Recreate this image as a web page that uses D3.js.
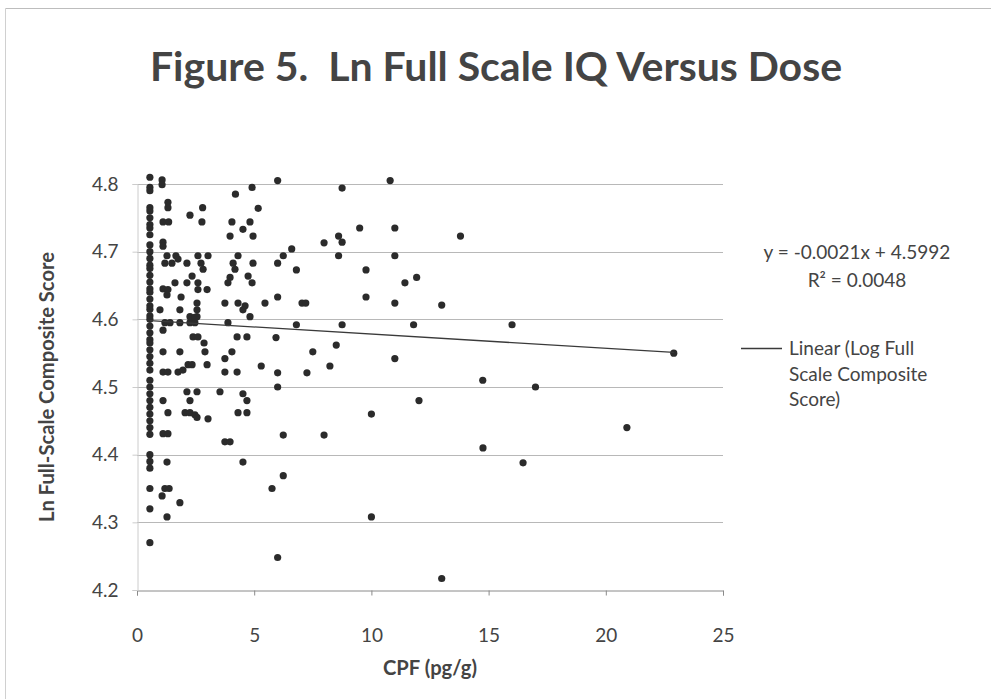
<!DOCTYPE html>
<html>
<head>
<meta charset="utf-8">
<script src="https://cdn.jsdelivr.net/npm/d3@7"></script>
<style>
  html, body { margin: 0; padding: 0; background: #fff; }
  svg { display: block; }
  text { font-family: Lato, "Open Sans", sans-serif; fill: #444; white-space: pre; }
</style>
</head>
<body>
<svg id="chart" width="991" height="699"></svg>
<script>
// ---- data ----
const titleText = "Figure 5.  Ln Full Scale IQ Versus Dose";
const xAxisTitle = "CPF (pg/g)";
const yAxisTitle = "Ln Full-Scale Composite Score";
const xTicks = [0, 5, 10, 15, 20, 25];
const yTicks = [4.2, 4.3, 4.4, 4.5, 4.6, 4.7, 4.8];
const trendSlope = -0.0021;
const trendIntercept = 4.5992;
const trendRange = [0.55, 22.9];
const equationLines = ["y = -0.0021x + 4.5992", "R² = 0.0048"];
const legendLines = ["Linear (Log Full", "Scale Composite", "Score)"];

// column of samples at the lowest dose
const lowDoseX = 0.55;
const lowDoseScores = [4.81, 4.795, 4.79, 4.765, 4.76, 4.75, 4.74, 4.735, 4.725, 4.71,
  4.70, 4.69, 4.68, 4.675, 4.665, 4.655, 4.645, 4.64, 4.63, 4.62, 4.615, 4.605, 4.60,
  4.59, 4.58, 4.57, 4.565, 4.555, 4.545, 4.535, 4.525, 4.51, 4.50, 4.49, 4.48, 4.47,
  4.46, 4.45, 4.44, 4.43, 4.40, 4.39, 4.38, 4.35, 4.32, 4.27];

// remaining samples [dose, ln score]
const otherPoints = [
  [1.07,4.806],[1.07,4.799],[4.91,4.795],[4.2,4.785],
  [1.32,4.773],[1.32,4.765],[2.8,4.765],[2.26,4.754],[2.77,4.744],[1.11,4.744],[1.35,4.744],
  [4.05,4.744],[4.82,4.744],[4.52,4.733],[3.97,4.723],[4.95,4.723],[1.11,4.714],[1.11,4.708],
  [1.28,4.694],[1.66,4.694],[1.75,4.689],[2.13,4.683],[2.6,4.694],[3.03,4.694],[1.19,4.683],
  [1.49,4.683],[2.73,4.683],[2.82,4.674],[4.31,4.694],[4.1,4.683],[4.18,4.674],[4.95,4.683],
  [2.35,4.664],[1.62,4.654],[2.13,4.654],[2.6,4.654],[3.97,4.662],[3.88,4.654],[4.74,4.664],
  [4.91,4.654],[1.11,4.645],[1.32,4.644],[1.28,4.636],[1.88,4.633],[2.6,4.644],[2.99,4.644],
  [0.98,4.614],[1.83,4.614],[2.56,4.624],[2.56,4.614],[2.56,4.604],[3.75,4.624],[4.31,4.624],
  [4.61,4.62],[4.52,4.614],[1.19,4.595],[1.41,4.595],[1.83,4.595],[2.26,4.595],[2.47,4.595],
  [2.26,4.604],[2.47,4.603],[1.11,4.584],[3.88,4.595],[4.82,4.604],
  [2.39,4.574],[2.6,4.574],[4.27,4.574],[4.69,4.574],[2.86,4.565],[2.9,4.552],[1.11,4.552],
  [1.83,4.552],[4.05,4.552],[3.75,4.542],
  [1.11,4.522],[1.32,4.522],[1.75,4.522],[1.96,4.525],[2.18,4.533],[2.35,4.533],[2.99,4.533],
  [3.75,4.522],[4.27,4.522],
  [2.13,4.493],[2.56,4.493],[1.11,4.48],[2.26,4.48],[3.54,4.493],[4.52,4.49],[4.69,4.48],
  [1.32,4.462],[2.05,4.462],[2.26,4.462],[2.47,4.459],[2.56,4.455],[3.03,4.453],[4.31,4.462],
  [4.69,4.462],[1.11,4.431],[1.32,4.431],[3.75,4.419],[3.97,4.419],[1.28,4.389],[4.52,4.389],
  [1.19,4.35],[1.37,4.35],[1.07,4.339],[1.83,4.329],[1.28,4.308],
  [6.0,4.805],[10.8,4.805],[8.75,4.794],[5.17,4.764],[7.98,4.713],[8.6,4.723],[8.75,4.714],
  [9.5,4.735],[11.0,4.735],[6.6,4.704],[6.24,4.694],[6.0,4.683],[8.6,4.694],[11.0,4.694],
  [6.8,4.673],[9.77,4.673],[11.43,4.654],[6.0,4.633],[9.77,4.633],[5.46,4.624],[7.04,4.624],
  [7.2,4.624],[11.0,4.624],[6.8,4.592],[8.75,4.592],[5.93,4.573],[8.5,4.562],[7.5,4.552],
  [11.0,4.542],[5.3,4.531],[8.23,4.531],[6.0,4.521],[7.25,4.521],[6.0,4.50],[10.0,4.46],
  [6.24,4.429],[7.98,4.429],[6.24,4.369],[5.76,4.35],[10.0,4.308],[6.0,4.248],
  [13.8,4.723],[11.93,4.662],[13.0,4.621],[11.8,4.592],[16.0,4.592],[22.9,4.55],[14.75,4.51],
  [17.0,4.50],[12.03,4.48],[20.9,4.44],[14.76,4.41],[16.47,4.388],[13.0,4.217]
];

const points = lowDoseScores.map(v => [lowDoseX, v]).concat(otherPoints);

// ---- drawing ----
const svg = d3.select("#chart");
const W = 991, H = 699;
const plot = { left: 137, right: 723, top: 184, bottom: 590 };

// scale a text element's font size so it spans the wanted width
function fitWidth(sel, width, base) {
  sel.style("font-size", base + "px");
  const w = sel.node().getComputedTextLength();
  if (w > 0) sel.style("font-size", (base * width / w).toFixed(2) + "px");
  return sel;
}

// chart frame (top and left edges visible)
svg.append("line").attr("x1", 5.5).attr("x2", W).attr("y1", 8.5).attr("y2", 8.5)
  .attr("stroke", "#bdbdbd");
svg.append("line").attr("x1", 5.5).attr("x2", 5.5).attr("y1", 8.5).attr("y2", H)
  .attr("stroke", "#d0d0d0");

const x = d3.scaleLinear().domain([0, 25]).range([plot.left, plot.right]);
const y = d3.scaleLinear().domain([4.2, 4.8]).range([plot.bottom, plot.top]);

// gridlines
svg.append("g").selectAll("line").data(yTicks.slice(1)).join("line")
  .attr("x1", plot.left).attr("x2", plot.right)
  .attr("y1", d => Math.round(y(d)) + 0.5).attr("y2", d => Math.round(y(d)) + 0.5)
  .attr("stroke", "#b8b8b8").attr("stroke-width", 1);

// axes
const xAxis = d3.axisBottom(x).tickValues(xTicks).tickFormat(d3.format("d")).tickSize(5).tickPadding(33);
const gx = svg.append("g").attr("transform", `translate(0,${plot.bottom + 0.5})`).call(xAxis);
gx.select(".domain").attr("stroke", "#8a8a8a");
gx.selectAll(".tick line").attr("stroke", "#8a8a8a");
gx.selectAll(".tick text").style("font-size", "19px").style("font-family", "Lato, sans-serif").attr("fill", "#555");

const yAxis = d3.axisLeft(y).tickValues(yTicks).tickFormat(d3.format(".1f")).tickSize(5).tickPadding(14);
const gy = svg.append("g").attr("transform", `translate(${plot.left + 0.5},0)`).call(yAxis);
gy.select(".domain").attr("stroke", "#cccccc");
gy.selectAll(".tick line").attr("stroke", "#cccccc");
gy.selectAll(".tick text").style("font-size", "19px").style("font-family", "Lato, sans-serif").attr("fill", "#555");

// points
svg.append("g").selectAll("circle").data(points).join("circle")
  .attr("cx", d => x(d[0])).attr("cy", d => y(d[1])).attr("r", 3.6)
  .attr("fill", "#2b2b2b");

// trendline
const line = d3.line().x(d => x(d)).y(d => y(trendSlope * d + trendIntercept));
svg.append("path").datum(trendRange).attr("d", line)
  .attr("fill", "none").attr("stroke", "#3a3a3a").attr("stroke-width", 1.3);

// title
const title = svg.append("text").attr("x", 496).attr("y", 81).attr("text-anchor", "middle")
  .style("font-weight", "bold").attr("fill", "#404040")
  .text(titleText);
fitWidth(title, 692, 37);

// axis titles
const xt = svg.append("text").attr("x", (plot.left + plot.right) / 2).attr("y", 675).attr("text-anchor", "middle")
  .style("font-weight", "bold").attr("fill", "#444")
  .text(xAxisTitle);
fitWidth(xt, 94, 18);
const yt = svg.append("text").attr("transform", `translate(54,${(plot.top + plot.bottom) / 2}) rotate(-90)`)
  .attr("text-anchor", "middle")
  .style("font-weight", "bold").attr("fill", "#444")
  .text(yAxisTitle);
yt.style("font-size", xt.style("font-size"));

// equation
const eq = svg.append("g").selectAll("text").data(equationLines).join("text")
  .attr("x", 857).attr("y", (d, i) => 259 + i * 28).attr("text-anchor", "middle")
  .attr("fill", "#444")
  .text(d => d);
fitWidth(eq.filter((d, i) => i === 0), 187, 18);
eq.style("font-size", eq.filter((d, i) => i === 0).style("font-size"));

// legend
svg.append("line").attr("x1", 741).attr("x2", 782).attr("y1", 348.5).attr("y2", 348.5)
  .attr("stroke", "#3a3a3a").attr("stroke-width", 1.3);
const lg = svg.append("g").selectAll("text").data(legendLines).join("text")
  .attr("x", 789).attr("y", (d, i) => 355 + i * 25.5)
  .attr("fill", "#444")
  .text(d => d);
lg.style("font-size", eq.style("font-size"));
</script>
</body>
</html>
